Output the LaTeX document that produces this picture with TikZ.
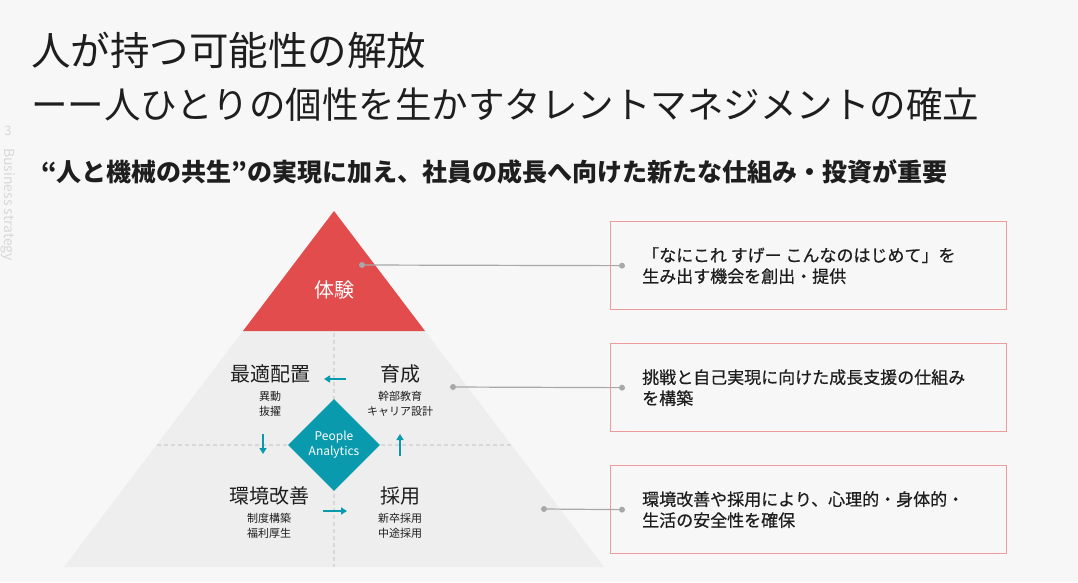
\documentclass[tikz,border=0pt]{standalone}
\usepackage{fontspec}
\setmainfont{Noto Sans CJK JP}
\newfontfamily\notefont[FakeBold=0.6]{Noto Sans CJK JP}
\usetikzlibrary{arrows.meta,shapes.geometric}
\definecolor{paper}{HTML}{F7F7F7}
\definecolor{pyrgray}{HTML}{EEEEEE}
\definecolor{peakred}{HTML}{E24C4C}
\definecolor{pateal}{HTML}{0A9AAD}
\definecolor{framered}{HTML}{EC9C9C}
\definecolor{wiregray}{HTML}{A8A8A8}
\definecolor{ink}{HTML}{1E1E1E}
\definecolor{faint}{HTML}{D8D8D8}
\begin{document}
\begin{tikzpicture}[x=1pt,y=-1pt,
  every node/.style={text=ink,inner sep=0pt},
  quad/.style={font=\fontsize{20}{22}\selectfont},
  sub/.style={font=\fontsize{11}{14.5}\selectfont,align=center},
  flow/.style={draw=pateal,line width=1.6pt,-{Triangle[length=6pt,width=7pt]}},
  grid/.style={draw=faint,line width=1.2pt,dash pattern=on 4pt off 3pt},
  note box/.style={draw=framered,line width=1.3pt,minimum width=396pt,minimum height=88pt,anchor=north west},
  note/.style={font=\notefont\fontsize{17}{21}\selectfont,align=left,anchor=west},
  dot/.style={circle,fill=wiregray,minimum size=6pt},
  wire/.style={draw=wiregray,line width=1.2pt}]
\fill[paper] (0,0) rectangle (1078,582);
% margin
\node[text=faint,font=\fontsize{13}{13}\selectfont] (pg) at (8,131) {3};
\node[text=faint,font=\fontsize{14}{14}\selectfont,rotate=-90,anchor=south west] (sec) at (1,148) {Business strategy};
% headings
\node[anchor=west,font=\fontsize{39.5}{40}\selectfont] (t1) at (31,50) {人が持つ可能性の解放};
\node[anchor=west,font=\fontsize{36.5}{40}\selectfont] (t2) at (31,105) {ーー人ひとりの個性を生かすタレントマネジメントの確立};
\node[anchor=west,font=\bfseries\fontsize{25}{26}\selectfont] (lead) at (41,172) {“人と機械の共生”の実現に加え、社員の成長へ向けた新たな仕組み・投資が重要};
% pyramid
\fill[pyrgray] (334,211) -- (64,567) -- (604,567) -- cycle;
\fill[peakred] (334,211) -- (243,331) -- (425,331) -- cycle;
\draw[grid] (157,445) -- (512,445);
\draw[grid] (334,333) -- (334,567);
\node[text=white,font=\fontsize{20}{22}\selectfont] (exp) at (334,290) {体験};
\node[quad] (opt) at (270,374) {最適配置};
\node[sub] (opt s) at (270,404) {異動\\抜擢};
\node[quad] (dev) at (400,374) {育成};
\node[sub] (dev s) at (400,404) {幹部教育\\キャリア設計};
\node[quad] (env) at (269,496) {環境改善};
\node[sub] (env s) at (269,526) {制度構築\\福利厚生};
\node[quad] (rec) at (400,496) {採用};
\node[sub] (rec s) at (400,526) {新卒採用\\中途採用};
\node[diamond,fill=pateal,minimum width=92pt,minimum height=92pt,text=white,
  font=\fontsize{12}{15}\selectfont,align=center] (pa) at (334,445) {People\\Analytics};
\coordinate (f1a) at (346,379); \coordinate (f1b) at (324,379);
\coordinate (f2a) at (263,434); \coordinate (f2b) at (263,454);
\coordinate (f3a) at (323,511); \coordinate (f3b) at (347,511);
\coordinate (f4a) at (400,456); \coordinate (f4b) at (400,434);
\draw[flow] (f1a) -- (f1b);
\draw[flow] (f2a) -- (f2b);
\draw[flow] (f3a) -- (f3b);
\draw[flow] (f4a) -- (f4b);
% notes
\node[note box] (b1) at (610,221) {};
\node[note box] (b2) at (610,343) {};
\node[note box] (b3) at (610,465) {};
\node[note] (n1) at ([xshift=32pt]b1.west) {「なにこれ すげー こんなのはじめて」を\\生み出す機会を創出・提供};
\node[note] (n2) at ([xshift=32pt]b2.west) {挑戦と自己実現に向けた成長支援の仕組み\\を構築};
\node[note] (n3) at ([xshift=32pt]b3.west) {環境改善や採用により、心理的・身体的・\\生活の安全性を確保};
\node[dot] (d1) at (362,265) {};
\node[dot] (d2) at (453,387) {};
\node[dot] (d3) at (544,509) {};
\node[dot] (e1) at ([xshift=12pt]b1.west) {};
\node[dot] (e2) at ([xshift=12pt]b2.west) {};
\node[dot] (e3) at ([xshift=12pt]b3.west) {};
\draw[wire] (d1) -- (e1);
\draw[wire] (d2) -- (e2);
\draw[wire] (d3) -- (e3);
\end{tikzpicture}
\end{document}
